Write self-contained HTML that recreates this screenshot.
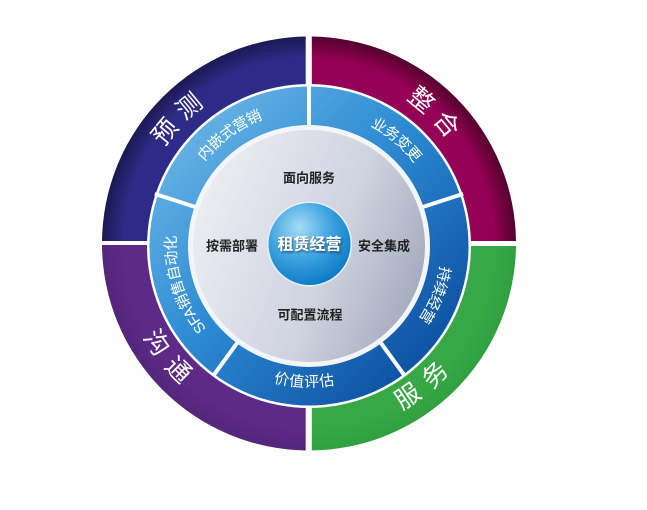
<!DOCTYPE html>
<html><head><meta charset="utf-8"><style>
html,body{margin:0;padding:0;background:#fff;}
svg{display:block;}
text{font-family:"Liberation Sans","Noto Sans CJK SC",sans-serif;}
</style></head><body>
<svg width="647" height="510" viewBox="0 0 647 510" xmlns="http://www.w3.org/2000/svg">
<defs>
<clipPath id="cTL"><rect x="0" y="0" width="305.7" height="241"/></clipPath>
<clipPath id="cTR"><rect x="311.8" y="0" width="340" height="241"/></clipPath>
<clipPath id="cBL"><rect x="0" y="245" width="305.7" height="300"/></clipPath>
<clipPath id="cBR"><rect x="311.8" y="246" width="340" height="300"/></clipPath>
<radialGradient id="gTL" cx="309" cy="243.5" r="206" gradientUnits="userSpaceOnUse">
<stop offset="0.9" stop-color="#2e2b88"/><stop offset="0.95" stop-color="#25236f"/><stop offset="1" stop-color="#1c1a55"/></radialGradient>
<radialGradient id="gTR" cx="309" cy="243.5" r="206" gradientUnits="userSpaceOnUse">
<stop offset="0.9" stop-color="#930055"/><stop offset="0.95" stop-color="#75023f"/><stop offset="1" stop-color="#560230"/></radialGradient>
<radialGradient id="gBL" cx="309" cy="243.5" r="206" gradientUnits="userSpaceOnUse">
<stop offset="0.9" stop-color="#5d2a87"/><stop offset="1" stop-color="#55267c"/></radialGradient>
<radialGradient id="gBR" cx="309" cy="243.5" r="206" gradientUnits="userSpaceOnUse">
<stop offset="0.9" stop-color="#37a845"/><stop offset="1" stop-color="#31a040"/></radialGradient>
<linearGradient id="gBlue" x1="0.1" y1="0.1" x2="0.9" y2="0.9">
<stop offset="0" stop-color="#6ab4e6"/><stop offset="0.45" stop-color="#2d8bd3"/><stop offset="1" stop-color="#0b4c9e"/></linearGradient>
<linearGradient id="gGrey" x1="0" y1="0.3" x2="1" y2="0.7">
<stop offset="0" stop-color="#eceef4"/><stop offset="0.6" stop-color="#cfd3df"/><stop offset="1" stop-color="#a3a9bd"/></linearGradient>
<radialGradient id="gSph" cx="0.38" cy="0.3" r="0.75">
<stop offset="0" stop-color="#a6dcf6"/><stop offset="0.5" stop-color="#3fa4e0"/><stop offset="1" stop-color="#0877c4"/></radialGradient>
<path id="pYC" d="M127.7,228.1 A182,182 0 0 1 293.1,62.7"/>
<path id="pZH" d="M324.9,62.7 A182,182 0 0 1 490.3,228.1"/>
<path id="pFW" d="M309,426 A182,182 0 0 0 488.2,275.6"/>
<path id="pGT" d="M127,244 A182,182 0 0 0 277.4,423.2"/>
<path id="p1" d="M175.1,210.6 A138,138 0 0 1 318.6,106.3"/>
<path id="p2" d="M309,106 A138,138 0 0 1 444.9,220"/>
<path id="p3" d="M440.3,201.4 A138,138 0 0 1 373.8,365.8"/>
<path id="p4" d="M216.7,346.5 A138,138 0 0 0 394,352.7"/>
<path id="p5" d="M235.9,361 A138,138 0 0 1 181,192.3"/>
<filter id="sh" x="-20%" y="-20%" width="140%" height="140%"><feDropShadow dx="1" dy="1.5" stdDeviation="1" flood-color="#123" flood-opacity="0.7"/></filter>
</defs>
<circle cx="309" cy="243.5" r="207" fill="url(#gTL)" clip-path="url(#cTL)"/>
<circle cx="309" cy="243.5" r="207" fill="url(#gTR)" clip-path="url(#cTR)"/>
<circle cx="309" cy="243.5" r="207" fill="url(#gBL)" clip-path="url(#cBL)"/>
<circle cx="309" cy="243.5" r="207" fill="url(#gBR)" clip-path="url(#cBR)"/>
<circle cx="309" cy="246" r="162" fill="#fff"/>
<circle cx="309" cy="246" r="159.5" fill="url(#gBlue)"/>
<g stroke="#fff" stroke-width="4">
<line x1="309" y1="126" x2="309" y2="84"/>
<line x1="196.8" y1="207.5" x2="154.9" y2="193.9"/>
<line x1="421.2" y1="207.5" x2="463.1" y2="193.9"/>
<line x1="239.6" y1="339.5" x2="213.8" y2="375.1"/>
<line x1="378.4" y1="339.5" x2="404.2" y2="375.1"/>
</g>
<circle cx="309" cy="246" r="121" fill="#f4f5f8"/>
<circle cx="309" cy="246" r="116" fill="url(#gGrey)"/>
<circle cx="309.5" cy="244" r="42.5" fill="#e8eef6"/>
<circle cx="309.5" cy="244" r="41" fill="url(#gSph)"/>
<g fill="#fff" font-size="25" dominant-baseline="central" letter-spacing="10">
<text><textPath href="#pYC" startOffset="50%" text-anchor="middle">预测</textPath></text>
<text><textPath href="#pZH" startOffset="50%" text-anchor="middle">整合</textPath></text>
<text><textPath href="#pFW" startOffset="50%" text-anchor="middle">服务</textPath></text>
<text><textPath href="#pGT" startOffset="50%" text-anchor="middle">沟通</textPath></text>
</g>
<g fill="#fff" font-size="15" dominant-baseline="central">
<text><textPath href="#p1" startOffset="50%" text-anchor="middle">内嵌式营销</textPath></text>
<text><textPath href="#p2" startOffset="50%" text-anchor="middle">业务变更</textPath></text>
<text><textPath href="#p3" startOffset="50%" text-anchor="middle">持续经营</textPath></text>
<text><textPath href="#p4" startOffset="50%" text-anchor="middle">价值评估</textPath></text>
<text><textPath href="#p5" startOffset="50%" text-anchor="middle">SFA销售自动化</textPath></text>
</g>
<g fill="#222" font-size="13" font-weight="bold" text-anchor="middle" dominant-baseline="central">
<text x="309" y="178">面向服务</text>
<text x="232" y="246">按需部署</text>
<text x="384" y="246">安全集成</text>
<text x="310" y="315">可配置流程</text>
</g>
<text x="309.5" y="245" fill="#fff" font-size="16" font-weight="bold" text-anchor="middle" dominant-baseline="central" filter="url(#sh)">租赁经营</text>
</svg>
</body></html>
